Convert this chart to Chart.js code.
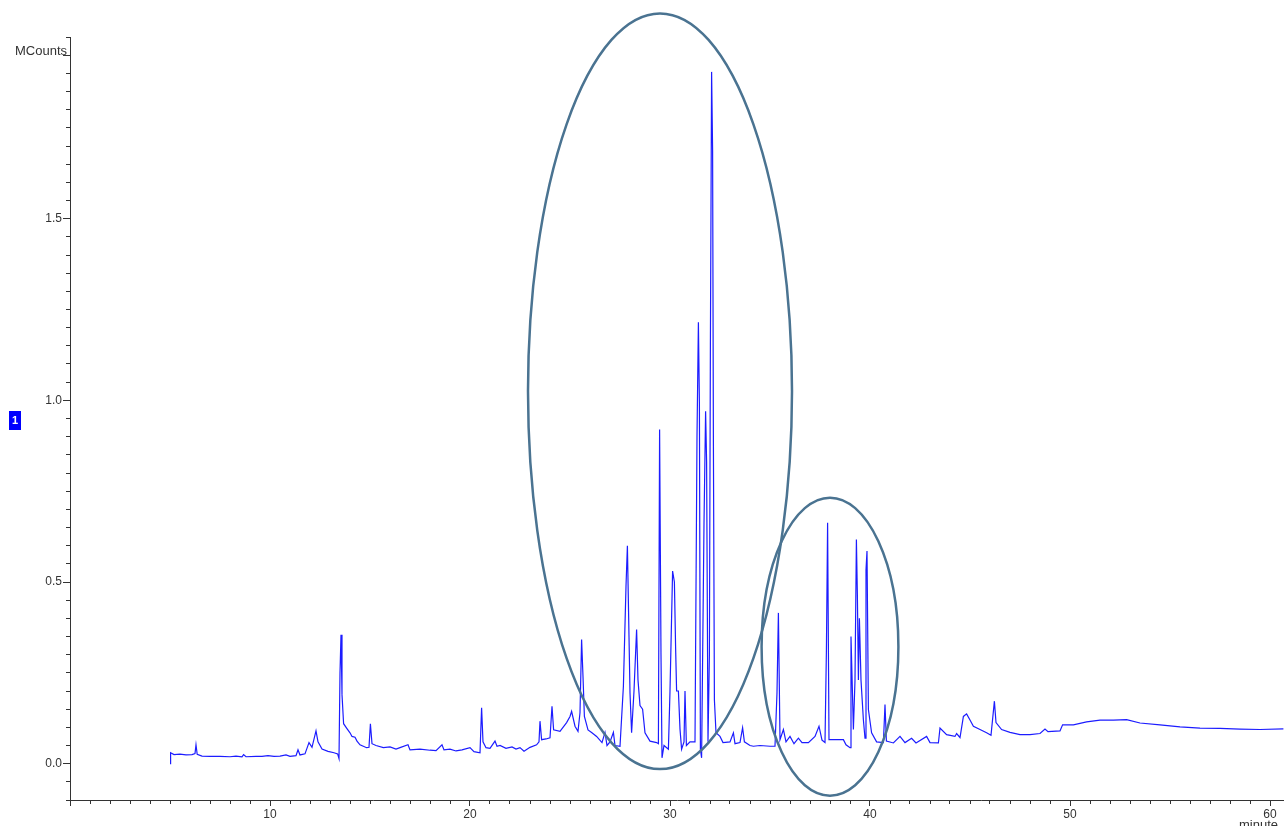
<!DOCTYPE html>
<html>
<head>
<meta charset="utf-8">
<script src="https://cdn.jsdelivr.net/npm/chart.js@4/dist/chart.umd.min.js"></script>
<style>
  html, body { margin: 0; padding: 0; background: #fff; }
  #wrap { position: relative; width: 1284px; height: 826px; }
</style>
</head>
<body>
<div id="wrap"><canvas id="c" width="1284" height="826"></canvas></div>
<script>
// Retention time (minute)
const retentionTime = [
  5.00, 5.03, 5.2, 5.5, 5.8, 6.1, 6.25, 6.3, 6.36, 6.6, 7.0, 7.5, 8.0, 8.3, 8.6, 8.68, 8.8, 9.3, 9.6, 9.9,
  10.2, 10.5, 10.8, 11.0, 11.3, 11.4, 11.5, 11.75, 11.95, 12.1, 12.3, 12.4, 12.6, 12.9, 13.2, 13.38, 13.45, 13.5, 13.55, 13.6,
  13.68, 13.83, 14.0, 14.1, 14.25, 14.35, 14.5, 14.83, 14.95, 15.02, 15.1, 15.3, 15.67, 16.0, 16.3, 16.5, 16.9, 17.0, 17.5, 18.0,
  18.3, 18.6, 18.7, 19.0, 19.3, 19.6, 20.0, 20.2, 20.5, 20.58, 20.65, 20.8, 21.0, 21.25, 21.35, 21.5, 21.8, 22.1, 22.3, 22.5,
  22.7, 23.0, 23.33, 23.45, 23.5, 23.58, 23.8, 24.0, 24.1, 24.18, 24.5, 24.83, 25.0, 25.08, 25.25, 25.4, 25.5, 25.58, 25.65, 25.72,
  25.9, 26.08, 26.33, 26.6, 26.75, 26.85, 27.0, 27.17, 27.25, 27.5, 27.67, 27.8, 27.87, 27.95, 28.0, 28.08, 28.2, 28.33, 28.4, 28.5,
  28.63, 28.75, 29.0, 29.33, 29.42, 29.48, 29.55, 29.6, 29.7, 29.92, 30.0, 30.13, 30.22, 30.28, 30.33, 30.42, 30.5, 30.58, 30.7, 30.75,
  30.82, 31.0, 31.25, 31.35, 31.42, 31.47, 31.52, 31.58, 31.7, 31.78, 31.83, 31.9, 31.97, 32.02, 32.08, 32.13, 32.17, 32.22, 32.3, 32.5,
  32.65, 33.0, 33.17, 33.25, 33.5, 33.63, 33.72, 34.0, 34.17, 34.5, 35.0, 35.25, 35.35, 35.42, 35.5, 35.67, 35.8, 36.0, 36.2, 36.42,
  36.6, 36.92, 37.25, 37.45, 37.6, 37.75, 37.82, 37.88, 37.95, 38.17, 38.67, 38.8, 39.0, 39.05, 39.17, 39.25, 39.32, 39.37, 39.42, 39.47,
  39.55, 39.67, 39.75, 39.8, 39.85, 39.92, 40.08, 40.33, 40.67, 40.75, 40.82, 41.17, 41.5, 41.75, 42.08, 42.3, 42.83, 43.0, 43.42, 43.5,
  43.83, 44.25, 44.33, 44.5, 44.67, 44.83, 45.0, 45.17, 45.5, 45.83, 46.05, 46.22, 46.3, 46.58, 47.0, 47.5, 48.0, 48.5, 48.75, 48.9,
  49.5, 49.63, 50.17, 50.83, 51.5, 52.17, 52.83, 53.5, 54.5, 55.5, 56.5, 57.5, 58.5, 59.5, 60.67
];
// Intensity (MCounts)
const intensity = [
  0.000, 0.030, 0.025, 0.026, 0.024, 0.025, 0.028, 0.052, 0.026, 0.021, 0.020, 0.020, 0.019, 0.021, 0.019, 0.025, 0.019, 0.020, 0.020, 0.022,
  0.020, 0.021, 0.024, 0.020, 0.022, 0.038, 0.024, 0.027, 0.058, 0.045, 0.090, 0.060, 0.040, 0.034, 0.030, 0.027, 0.014, 0.250, 0.355, 0.190,
  0.110, 0.098, 0.085, 0.075, 0.073, 0.062, 0.052, 0.044, 0.045, 0.110, 0.055, 0.050, 0.044, 0.046, 0.040, 0.044, 0.052, 0.038, 0.040, 0.037,
  0.036, 0.052, 0.038, 0.040, 0.035, 0.038, 0.044, 0.033, 0.030, 0.154, 0.060, 0.044, 0.042, 0.062, 0.048, 0.050, 0.042, 0.046, 0.040, 0.044,
  0.034, 0.045, 0.052, 0.060, 0.117, 0.066, 0.068, 0.071, 0.158, 0.093, 0.089, 0.113, 0.130, 0.144, 0.103, 0.089, 0.140, 0.342, 0.240, 0.130,
  0.093, 0.086, 0.075, 0.058, 0.086, 0.050, 0.060, 0.086, 0.050, 0.048, 0.213, 0.488, 0.600, 0.350, 0.195, 0.085, 0.200, 0.369, 0.230, 0.160,
  0.150, 0.085, 0.062, 0.058, 0.055, 0.920, 0.300, 0.016, 0.050, 0.040, 0.200, 0.530, 0.500, 0.320, 0.200, 0.200, 0.095, 0.040, 0.060, 0.200,
  0.050, 0.060, 0.060, 0.900, 1.215, 0.990, 0.040, 0.016, 0.660, 0.970, 0.830, 0.060, 0.300, 1.160, 1.904, 1.687, 0.884, 0.176, 0.085, 0.075,
  0.058, 0.060, 0.085, 0.055, 0.058, 0.099, 0.060, 0.050, 0.048, 0.050, 0.048, 0.048, 0.195, 0.415, 0.066, 0.094, 0.060, 0.075, 0.055, 0.070,
  0.058, 0.058, 0.075, 0.103, 0.065, 0.058, 0.310, 0.663, 0.066, 0.066, 0.066, 0.052, 0.044, 0.350, 0.094, 0.230, 0.617, 0.460, 0.230, 0.400,
  0.230, 0.120, 0.070, 0.534, 0.585, 0.149, 0.085, 0.060, 0.058, 0.163, 0.062, 0.057, 0.075, 0.058, 0.070, 0.057, 0.075, 0.058, 0.057, 0.098,
  0.080, 0.075, 0.083, 0.072, 0.130, 0.137, 0.120, 0.103, 0.094, 0.085, 0.078, 0.172, 0.113, 0.094, 0.086, 0.080, 0.080, 0.083, 0.095, 0.088,
  0.090, 0.107, 0.107, 0.115, 0.120, 0.120, 0.121, 0.112, 0.107, 0.101, 0.098, 0.097, 0.095, 0.094, 0.096
];
// Tick labels
const xTickLabels = [10, 20, 30, 40, 50, 60];
const yTickLabels = [0.0, 0.5, 1.0, 1.5];
// Highlight ellipses (data units): center time, center intensity, half-width (min), half-height (MCounts)
const ellipseCenterX = [29.5, 38.0];
const ellipseCenterY = [1.025, 0.322];
const ellipseRadiusX = [6.6, 3.42];
const ellipseRadiusY = [1.04, 0.41];

const points = retentionTime.map((t, i) => ({ x: t, y: intensity[i] }));
const FONT = 'Arial, "Liberation Sans", sans-serif';

const isMajorX = (v) => Math.abs(v - Math.round(v / 10) * 10) < 1e-6;
const isMajorY = (v) => yTickLabels.some(t => Math.abs(t - v) < 1e-6) || Math.abs(v - 1.95) < 1e-6;

const overlay = {
  id: 'overlay',
  afterDatasetsDraw(chart) {
    const ctx = chart.ctx;
    const xs = chart.scales.x, ys = chart.scales.y;
    ctx.save();
    ctx.strokeStyle = '#4a7391';
    ctx.lineWidth = 2.5;
    for (let i = 0; i < ellipseCenterX.length; i++) {
      const cx = xs.getPixelForValue(ellipseCenterX[i]);
      const cy = ys.getPixelForValue(ellipseCenterY[i]);
      const rx = Math.abs(xs.getPixelForValue(ellipseCenterX[i] + ellipseRadiusX[i]) - cx);
      const ry = Math.abs(ys.getPixelForValue(ellipseCenterY[i] + ellipseRadiusY[i]) - cy);
      ctx.beginPath();
      ctx.ellipse(cx, cy, rx, ry, 0, 0, Math.PI * 2);
      ctx.stroke();
    }
    ctx.restore();
  },
  afterDraw(chart) {
    const ctx = chart.ctx;
    ctx.save();
    ctx.fillStyle = '#333';
    ctx.font = '13px ' + FONT;
    ctx.textAlign = 'right';
    ctx.textBaseline = 'middle';
    ctx.fillText('MCounts', 67, 51);
    ctx.textAlign = 'left';
    ctx.textBaseline = 'alphabetic';
    ctx.fillText('minute', 1239, 829);
    // trace id box
    ctx.fillStyle = '#0000ff';
    ctx.fillRect(9, 411, 12, 19);
    ctx.fillStyle = '#ffffff';
    ctx.font = 'bold 11px ' + FONT;
    ctx.textAlign = 'center';
    ctx.textBaseline = 'middle';
    ctx.fillText('1', 15, 421);
    ctx.restore();
  }
};

new Chart(document.getElementById('c'), {
  type: 'scatter',
  data: {
    datasets: [{
      data: points,
      showLine: true,
      borderColor: '#1c1cff',
      borderWidth: 1.2,
      pointRadius: 0,
      tension: 0,
      fill: false
    }]
  },
  options: {
    responsive: false,
    animation: false,
    events: [],
    layout: { padding: { top: 37, right: 0, bottom: 0, left: 0 } },
    plugins: { legend: { display: false }, tooltip: { enabled: false } },
    scales: {
      x: {
        type: 'linear',
        min: 0, max: 60.7,
        afterFit(s) { s.height = 26; },
        border: { display: true, color: '#333', width: 1 },
        grid: {
          drawOnChartArea: false, drawTicks: true, tickLength: 6, color: '#333',
          tickBorderDash: (c) => (c.tick && isMajorX(c.tick.value)) ? [] : [3, 30]
        },
        ticks: {
          stepSize: 1, autoSkip: false, includeBounds: false, maxRotation: 0, padding: 1,
          color: '#333', font: { size: 12, family: FONT },
          callback: (v) => (isMajorX(v) && xTickLabels.includes(Math.round(v))) ? String(Math.round(v)) : ''
        }
      },
      y: {
        type: 'linear',
        min: -0.1, max: 2.0,
        afterFit(s) { s.width = 70; },
        border: { display: true, color: '#333', width: 1 },
        grid: {
          drawOnChartArea: false, drawTicks: true, tickLength: 7, color: '#333',
          tickBorderDash: (c) => (c.tick && isMajorY(c.tick.value)) ? [] : [0, 3, 4, 30]
        },
        ticks: {
          stepSize: 0.05, autoSkip: false, includeBounds: false, padding: 1,
          color: '#333', font: { size: 12, family: FONT },
          callback: (v) => {
            const hit = yTickLabels.find(t => Math.abs(t - v) < 1e-6);
            return hit !== undefined ? hit.toFixed(1) : '';
          }
        }
      }
    }
  },
  plugins: [overlay]
});
</script>
</body>
</html>
